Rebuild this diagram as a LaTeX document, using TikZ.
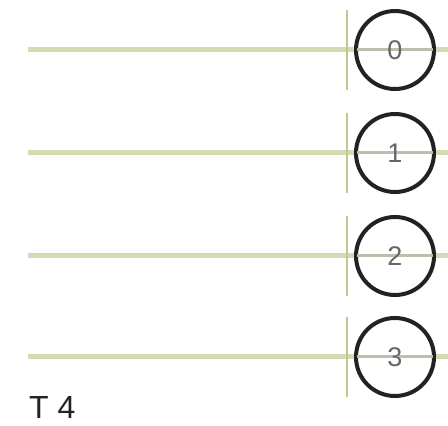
\documentclass[tikz,border=0pt]{standalone}
\usepackage{fontspec}
\setmainfont{Liberation Sans}
\definecolor{wire}{HTML}{D5DAB2}
\definecolor{inwire}{HTML}{BDBFAE}
\definecolor{tick}{HTML}{C2C690}
\definecolor{ring}{HTML}{222222}
\definecolor{lbl}{HTML}{666666}
\begin{document}
\begin{tikzpicture}[x=1pt,y=1pt,
  wirestyle/.style={draw=wire,line width=5pt},
  innerwire/.style={draw=inwire,line width=3pt,shorten <=3pt,shorten >=3pt},
  tickstyle/.style={draw=tick,line width=1.5pt},
  qubit/.style={circle,draw=ring,line width=4pt,fill=white,minimum size=78pt,inner sep=0pt},
  qlabel/.style={text=lbl,inner sep=0pt,font=\fontsize{27}{29}\selectfont}]
\useasboundingbox (0,0) rectangle (448,426);
\foreach \i/\y in {0/50,1/153,2/256,3/357}{
  \pgfmathsetmacro{\yy}{426-\y}
  \coordinate (s\i) at (28,\yy);
  \coordinate (e\i) at (448,\yy);
  \coordinate (ta\i) at (347,\yy+40);
  \coordinate (tb\i) at (347,\yy-40);
  \draw[wirestyle] (s\i) -- (e\i);
  \draw[tickstyle] (ta\i) -- (tb\i);
  \node[qubit] (q\i) at (395,\yy) {};
  \draw[innerwire] (q\i.west) -- (q\i.east);
  \node[qlabel] (l\i) at (q\i.center) {\i};
}
\node[anchor=base west,inner sep=0pt,font=\fontsize{32}{34}\selectfont,text=ring] (t4) at (29,7) {T 4};
\end{tikzpicture}
\end{document}
